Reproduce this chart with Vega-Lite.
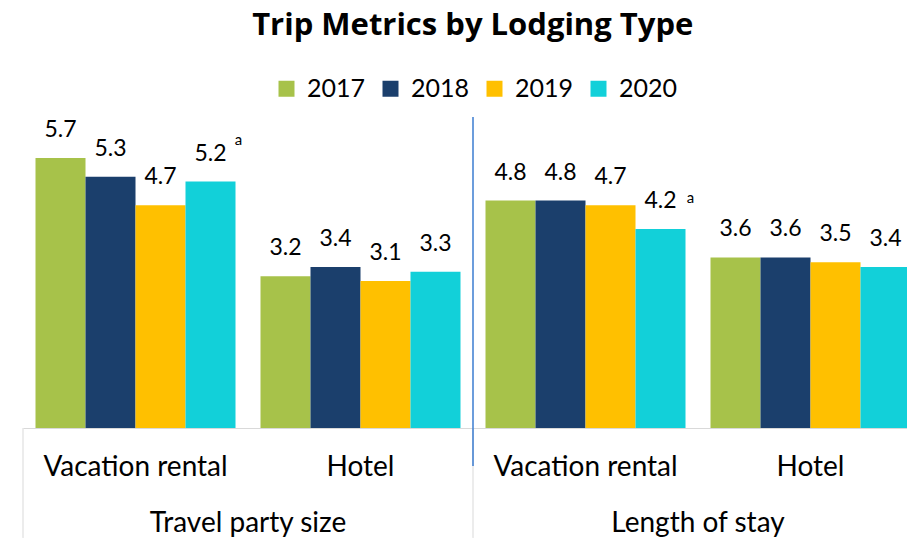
{
  "$schema": "https://vega.github.io/schema/vega-lite/v6.json",
  "padding": {"left": 22, "top": 10, "right": 0, "bottom": 0},
  "bounds": "flush",
  "title": {"text": "Trip Metrics by Lodging Type", "font": "Open Sans", "fontSize": 31, "fontWeight": "bold", "color": "black", "anchor": "middle", "offset": 34},
  "data": {"values": [
    {"metric": "Travel party size", "lodging": "Vacation rental", "year": "2017", "value": 5.7, "note": ""},
    {"metric": "Travel party size", "lodging": "Vacation rental", "year": "2018", "value": 5.3, "note": ""},
    {"metric": "Travel party size", "lodging": "Vacation rental", "year": "2019", "value": 4.7, "note": ""},
    {"metric": "Travel party size", "lodging": "Vacation rental", "year": "2020", "value": 5.2, "note": "a"},
    {"metric": "Travel party size", "lodging": "Hotel", "year": "2017", "value": 3.2, "note": ""},
    {"metric": "Travel party size", "lodging": "Hotel", "year": "2018", "value": 3.4, "note": ""},
    {"metric": "Travel party size", "lodging": "Hotel", "year": "2019", "value": 3.1, "note": ""},
    {"metric": "Travel party size", "lodging": "Hotel", "year": "2020", "value": 3.3, "note": ""},
    {"metric": "Length of stay", "lodging": "Vacation rental", "year": "2017", "value": 4.8, "note": ""},
    {"metric": "Length of stay", "lodging": "Vacation rental", "year": "2018", "value": 4.8, "note": ""},
    {"metric": "Length of stay", "lodging": "Vacation rental", "year": "2019", "value": 4.7, "note": ""},
    {"metric": "Length of stay", "lodging": "Vacation rental", "year": "2020", "value": 4.2, "note": "a"},
    {"metric": "Length of stay", "lodging": "Hotel", "year": "2017", "value": 3.6, "note": ""},
    {"metric": "Length of stay", "lodging": "Hotel", "year": "2018", "value": 3.6, "note": ""},
    {"metric": "Length of stay", "lodging": "Hotel", "year": "2019", "value": 3.5, "note": ""},
    {"metric": "Length of stay", "lodging": "Hotel", "year": "2020", "value": 3.4, "note": ""}
  ]},
  "facet": {"column": {"field": "metric", "type": "nominal", "sort": ["Travel party size", "Length of stay"],
    "header": {"title": null, "labelOrient": "bottom", "labelFont": "Lato", "labelFontSize": 28, "labelColor": "black", "labelPadding": 29}}},
  "spacing": 0,
  "spec": {
    "width": 450,
    "height": 308,
    "encoding": {
      "x": {"field": "lodging", "type": "nominal", "sort": ["Vacation rental", "Hotel"],
        "scale": {"paddingInner": 0, "paddingOuter": 0},
        "axis": {"title": null, "labelAngle": 0, "labelFont": "Lato", "labelFontSize": 28, "labelColor": "black", "labelLimit": 0, "ticks": false, "tickSize": 0, "domainColor": "#D9D9D9", "domainWidth": 1, "labelPadding": 25}},
      "y": {"field": "value", "type": "quantitative", "scale": {"domain": [0, 6.5], "nice": false, "zero": true}, "axis": null}
    },
    "layer": [
      {"mark": {"type": "bar"},
       "encoding": {
         "xOffset": {"field": "year", "type": "nominal", "scale": {"paddingInner": 0, "paddingOuter": 0.25}},
         "color": {"field": "year", "type": "nominal",
           "scale": {"domain": ["2017", "2018", "2019", "2020"], "range": ["#A7C24A", "#1B3F6C", "#FFC000", "#12D0D9"]},
           "legend": {"title": null, "orient": "none", "direction": "horizontal", "legendX": 251, "legendY": -44,
             "symbolType": "square", "symbolSize": 256, "symbolStrokeWidth": 0, "symbolOpacity": 1,
             "labelFont": "Lato", "labelFontSize": 25, "labelColor": "black", "labelOffset": 8, "columnPadding": 12}}
       }},
      {"mark": {"type": "text", "baseline": "alphabetic", "dy": -21, "font": "Lato", "fontSize": 23, "color": "black"},
       "encoding": {
         "xOffset": {"field": "year", "type": "nominal", "scale": {"paddingInner": 0, "paddingOuter": 0.25}},
         "text": {"field": "value", "type": "quantitative", "format": ".1f"}
       }},
      {"transform": [{"filter": "datum.note != '' && datum.metric == 'Travel party size'"}],
       "mark": {"type": "text", "baseline": "alphabetic", "dx": 28, "dy": -37, "font": "Lato", "fontSize": 15, "color": "black"},
       "encoding": {
         "xOffset": {"field": "year", "type": "nominal", "scale": {"paddingInner": 0, "paddingOuter": 0.25}},
         "text": {"field": "note", "type": "nominal"}
       }},
      {"transform": [{"filter": "datum.note != '' && datum.metric == 'Length of stay'"}],
       "mark": {"type": "text", "baseline": "alphabetic", "dx": 30, "dy": -26, "font": "Lato", "fontSize": 15, "color": "black"},
       "encoding": {
         "xOffset": {"field": "year", "type": "nominal", "scale": {"paddingInner": 0, "paddingOuter": 0.25}},
         "text": {"field": "note", "type": "nominal"}
       }},
      {"transform": [{"filter": "datum.year == '2017' && datum.lodging == 'Vacation rental'"}],
       "mark": {"type": "rule", "color": "#D9D9D9", "strokeWidth": 1},
       "encoding": {
         "x": {"field": "lodging", "type": "nominal", "sort": ["Vacation rental", "Hotel"], "bandPosition": 0},
         "y": {"datum": 0},
         "y2": {"datum": -2.32}
       }},
      {"transform": [{"filter": "datum.year == '2017' && datum.lodging == 'Vacation rental' && datum.metric == 'Length of stay'"}],
       "mark": {"type": "rule", "color": "#3B7DD0", "strokeWidth": 1.5},
       "encoding": {
         "x": {"field": "lodging", "type": "nominal", "sort": ["Vacation rental", "Hotel"], "bandPosition": 0},
         "y": {"datum": 6.565},
         "y2": {"datum": -0.8}
       }}
    ]
  },
  "config": {"font": "Lato", "view": {"stroke": null}}
}
